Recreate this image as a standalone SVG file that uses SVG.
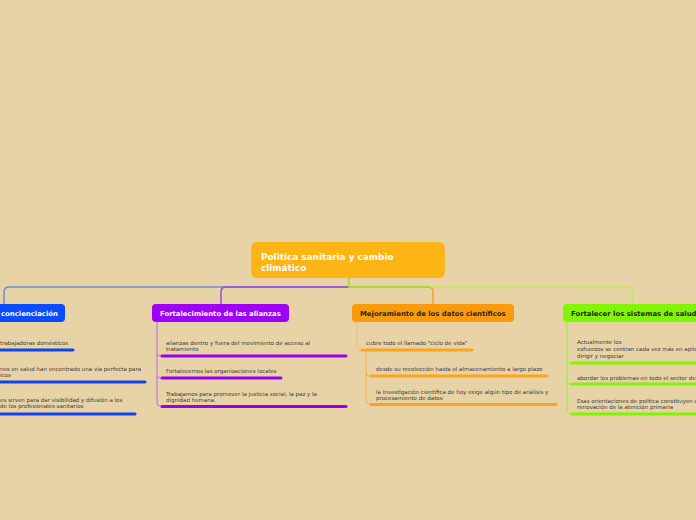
<svg xmlns="http://www.w3.org/2000/svg" width="696" height="520" viewBox="0 0 696 520">
<style>
.t{font-family:"DejaVu Sans",Verdana,sans-serif;font-size:5.5px;fill:#3a3a3a}
.h{font-family:"DejaVu Sans",Verdana,sans-serif;font-size:6.9px;font-weight:bold}
.c{font-family:"DejaVu Sans",Verdana,sans-serif;font-size:8.9px;font-weight:bold;fill:#ffffff}
.con{fill:none;stroke-width:1.5;stroke-linecap:round;stroke-linejoin:round}
.ul{fill:none;stroke-width:3;stroke-linecap:round}
.br{fill:none;stroke-width:1.2}
</style>
<rect width="696" height="520" fill="#e8d3a7"/>
<g id="connectors">
<path class="con" d="M349,287 H9 Q4,287 4,292 V304" stroke="#6d8fd9"/>
<path class="con" d="M349,287 H226 Q221,287 221,292 V304" stroke="#9a48e4"/>
<path class="con" d="M349,287 H428 Q433,287 433,292 V304" stroke="#f5a52a"/>
<path class="con" d="M349,287 H628 Q633,287 633,292 V304" stroke="#bfe65f"/>
<path class="con" d="M349,278 V287 H430" stroke="#a9d22e"/>
<path class="br" d="M157,322 V352 Q157,356 161,356 M157,352 V374 Q157,378 161,378 M157,374 V402 Q157,406 161,406" stroke="#c27ae9"/>
<path class="br" d="M357,322 V346 Q357,350 361,350" stroke="#f3c272"/>
<path class="br" d="M366,350 V372 Q366,376 370,376 M366,372 V400 Q366,404 370,404" stroke="#f3b550"/>
<path class="br" d="M567,322 V359 Q567,363 571,363 M567,359 V380 Q567,384 571,384 M567,380 V410 Q567,414 571,414" stroke="#a6e84c"/>
</g>
<g id="center">
<rect x="251" y="242" width="194" height="36" rx="6" fill="#fdb515"/>
<text class="c" x="261" y="259.5">Politica sanitaria y cambio</text>
<text class="c" x="261" y="270.5">climático</text>
</g>
<g id="n-concienciacion">
<rect x="-10" y="304" width="75" height="18" rx="4" fill="#0a4cff"/>
<text class="h" x="1" y="315.5" fill="#ffffff">concienciación</text>
</g>
<g id="n-alianzas">
<rect x="152" y="304" width="137" height="18" rx="4" fill="#9d00f5"/>
<text class="h" x="160" y="315.5" fill="#ffffff">Fortalecimiento de las alianzas</text>
</g>
<g id="n-datos">
<rect x="352" y="304" width="162" height="18" rx="4" fill="#fb9a0b"/>
<text class="h" x="360" y="315.5" fill="#262626">Mejoramiento de los datos científicos</text>
</g>
<g id="n-sistemas">
<rect x="563" y="304" width="150" height="18" rx="4" fill="#82f500"/>
<text class="h" x="571" y="315.5" fill="#262626">Fortalecer los sistemas de salud</text>
</g>
<g id="s-blue">
<text class="t" x="0" y="344.5">trabajadoras domésticos</text>
<path class="ul" d="M0,350 H73" stroke="#0f45ee"/>
<text class="t" x="0" y="370.5">nes en salud han encontrado una vía perfecta para</text>
<text class="t" x="0" y="376.5">icos</text>
<path class="ul" d="M0,382 H145" stroke="#0f45ee"/>
<text class="t" x="0" y="402">es sirven para dar visibilidad y difusión a los</text>
<text class="t" x="0" y="408">de los profesionales sanitarios</text>
<path class="ul" d="M0,414 H135" stroke="#0f45ee"/>
</g>
<g id="s-purple">
<text class="t" x="166" y="345">alianzas dentro y fuera del movimiento de acceso al</text>
<text class="t" x="166" y="351">tratamiento</text>
<path class="ul" d="M162,356 H346" stroke="#9900ee"/>
<text class="t" x="166" y="372.5">Fortalecemos las organizaciones locales</text>
<path class="ul" d="M162,378 H281" stroke="#9900ee"/>
<text class="t" x="166" y="395.5">Trabajamos para promover la justicia social, la paz y la</text>
<text class="t" x="166" y="402">dignidad humana.</text>
<path class="ul" d="M162,406.5 H346" stroke="#9900ee"/>
</g>
<g id="s-orange">
<text class="t" x="366" y="345">cubre todo el llamado "ciclo de vida"</text>
<path class="ul" d="M362,350 H472" stroke="#ffa31a"/>
<text class="t" x="376" y="370.5">desde su recolección hasta el almacenamiento a largo plazo</text>
<path class="ul" d="M371,376 H547" stroke="#ffa31a"/>
<text class="t" x="376" y="393.5">la investigación científica de hoy exige algún tipo de análisis y</text>
<text class="t" x="376" y="399.5">procesamiento de datos</text>
<path class="ul" d="M371,404.5 H556" stroke="#ffa31a"/>
</g>
<g id="s-green">
<text class="t" x="577" y="344">Actualmente los</text>
<text class="t" x="577" y="351">esfuerzos se centran cada vez más en aplic</text>
<text class="t" x="577" y="358">dirigir y negociar</text>
<path class="ul" d="M572,363 H700" stroke="#80f500"/>
<text class="t" x="577" y="379.5">abordar los problemas en todo el sector de</text>
<path class="ul" d="M572,384 H700" stroke="#80f500"/>
<text class="t" x="577" y="402.5">Esas orientaciones de política constituyen e</text>
<text class="t" x="577" y="408.5">renovación de la atención primaria</text>
<path class="ul" d="M572,414 H700" stroke="#80f500"/>
</g>
</svg>
